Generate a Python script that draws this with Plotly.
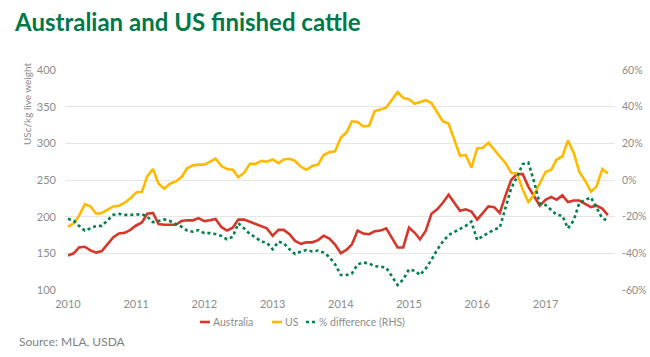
import pandas as pd
import plotly.graph_objects as go

months = pd.date_range("2010-01-01", "2017-12-01", freq="MS")

australia = [147, 150, 158, 159, 154, 151, 153, 162, 172, 177, 178, 182,
             188, 192, 204, 205, 190, 189, 189, 189, 194, 195, 195, 198,
             194, 195, 197, 186, 181, 185, 196, 196, 193, 190, 186, 184,
             174, 182, 182, 176, 167, 163, 165, 165, 168, 174, 170, 162,
             150, 155, 162, 181, 177, 176, 180, 181, 184, 171, 158, 158,
             185, 178, 169, 181, 204, 210, 219, 230, 219, 208, 210, 207,
             196, 205, 214, 213, 205, 229, 250, 258, 258, 241, 227, 215,
             223, 227, 223, 229, 220, 222, 222, 217, 213, 215, 211, 202]

us = [186, 191, 201, 217, 214, 204, 205, 210, 214, 215, 219, 225,
      233, 234, 255, 265, 245, 238, 245, 248, 254, 266, 270, 271,
      271, 275, 279, 269, 265, 264, 254, 260, 272, 272, 276, 275,
      278, 273, 278, 279, 276, 268, 264, 269, 271, 284, 288, 289,
      308, 315, 330, 329, 323, 324, 344, 346, 349, 359, 370, 362,
      360, 354, 356, 359, 355, 343, 330, 327, 306, 283, 284, 267,
      293, 294, 301, 292, 283, 273, 260, 259, 237, 220, 230, 246,
      261, 264, 278, 282, 304, 287, 261, 249, 234, 241, 265, 259]

pct_diff = [-21.1, -22.2, -25.0, -27.6, -26.4, -25.0, -25.0, -21.8, -19.0, -18.5, -19.0, -19.0,
            -18.9, -18.7, -20.0, -23.0, -22.4, -21.5, -22.4, -24.0, -25.5, -27.6, -28.2, -27.3,
            -29.0, -29.0, -29.5, -30.5, -32.4, -31.0, -23.6, -26.4, -29.5, -31.3, -33.6, -34.2,
            -37.8, -33.6, -34.5, -37.8, -40.4, -39.0, -38.2, -39.0, -38.5, -39.6, -42.0, -46.0,
            -51.8, -51.8, -51.0, -46.0, -45.0, -45.5, -47.0, -47.3, -47.8, -52.5, -57.3, -54.2,
            -48.7, -49.5, -51.8, -48.2, -43.6, -38.0, -33.6, -30.0, -28.2, -26.4, -25.0, -22.7,
            -32.7, -30.5, -28.7, -27.0, -26.0, -14.5, -4.5, 1.5, 8.7, 9.5, -1.0, -13.0,
            -13.6, -16.4, -19.0, -19.5, -26.4, -22.0, -12.5, -10.9, -9.5, -15.0, -20.9, -22.2]

left_ticks = [100, 150, 200, 250, 300, 350, 400]
right_ticks = [-60, -40, -20, 0, 20, 40, 60]
year_ticks = [f"{y}-01-01" for y in range(2010, 2018)]
year_labels = [str(y) for y in range(2010, 2018)]

RED = "#D7372B"
GOLD = "#FFBA00"
GREEN = "#00804A"
GREY = "#8C8C8C"
FONT = "Lato, 'Open Sans', sans-serif"

W, H = 650, 357
L, R, T, B = 65, 35, 70, 67
PW, PH = W - L - R, H - T - B


def px(x):
    return (x - L) / PW


def py(y):
    return (H - B - y) / PH


fig = go.Figure()
fig.add_trace(go.Scatter(x=months, y=australia, name="Australia", mode="lines",
                         line=dict(color=RED, width=2.6), showlegend=False))
fig.add_trace(go.Scatter(x=months, y=us, name="US", mode="lines",
                         line=dict(color=GOLD, width=2.6), showlegend=False))
fig.add_trace(go.Scatter(x=months, y=pct_diff, name="% difference (RHS)", mode="lines",
                         line=dict(color=GREEN, width=2.6, dash="dot"), yaxis="y2",
                         showlegend=False))

fig.update_layout(
    width=W, height=H,
    margin=dict(l=L, r=R, t=T, b=B, autoexpand=False),
    paper_bgcolor="white", plot_bgcolor="white",
    font=dict(family=FONT, color=GREY, size=11),
    title=dict(text="<b>Australian and US finished cattle</b>",
               font=dict(family=FONT, size=24, color="#00794A"),
               x=15 / W, xanchor="left", xref="container",
               y=1 - 14 / H, yanchor="top", yref="container", automargin=False),
    xaxis=dict(type="date", range=["2009-12-16", "2018-01-08"],
               tickvals=year_ticks, ticktext=year_labels, automargin=False,
               showgrid=False, zeroline=False, showline=False, ticks="",
               ticklabelstandoff=6, tickfont=dict(size=11, color=GREY)),
    yaxis=dict(range=[100, 400], tickvals=left_ticks, showgrid=True, automargin=False,
               gridcolor="#E6E6E6", gridwidth=1, zeroline=False, showline=False,
               ticks="", ticklabelstandoff=8, tickfont=dict(size=11, color=GREY)),
    yaxis2=dict(range=[-60, 60], tickvals=right_ticks, automargin=False,
                ticktext=[f"{v}%" for v in right_ticks],
                overlaying="y", side="right", showgrid=False, zeroline=False,
                showline=False, ticks="", ticklabelstandoff=6,
                tickfont=dict(size=10.5, color=GREY)),
)

annotations = [
    dict(text="USc/kg live weight", xref="paper", yref="paper",
         x=px(27), y=py(104), xanchor="center", yanchor="middle",
         textangle=-90, showarrow=False, font=dict(size=10, color=GREY)),
    dict(text="Source: MLA, USDA", xref="paper", yref="paper",
         x=px(17), y=py(341), xanchor="left", yanchor="middle",
         showarrow=False, font=dict(size=12, color="#7F7F7F")),
]

legend_items = [
    ("Australia", RED, "solid", 200, 210),
    ("US", GOLD, "solid", 272, 282),
    ("% difference (RHS)", GREEN, "dot", 306, 316),
]
shapes = []
for label, color, dash, x0, x1 in legend_items:
    shapes.append(dict(type="line", xref="paper", yref="paper",
                       x0=px(x0), x1=px(x1), y0=py(322), y1=py(322),
                       line=dict(color=color, width=2.6, dash=dash)))
    annotations.append(dict(text=label, xref="paper", yref="paper",
                            x=px(x1 + 1), y=py(322), xanchor="left",
                            yanchor="middle", showarrow=False,
                            font=dict(size=10.5, color=GREY)))

fig.update_layout(annotations=annotations, shapes=shapes)

fig.write_html("out.html",
               config={"displayModeBar": False},
               post_script="document.body.style.margin='0';"
                           "document.body.style.overflow='hidden';")
